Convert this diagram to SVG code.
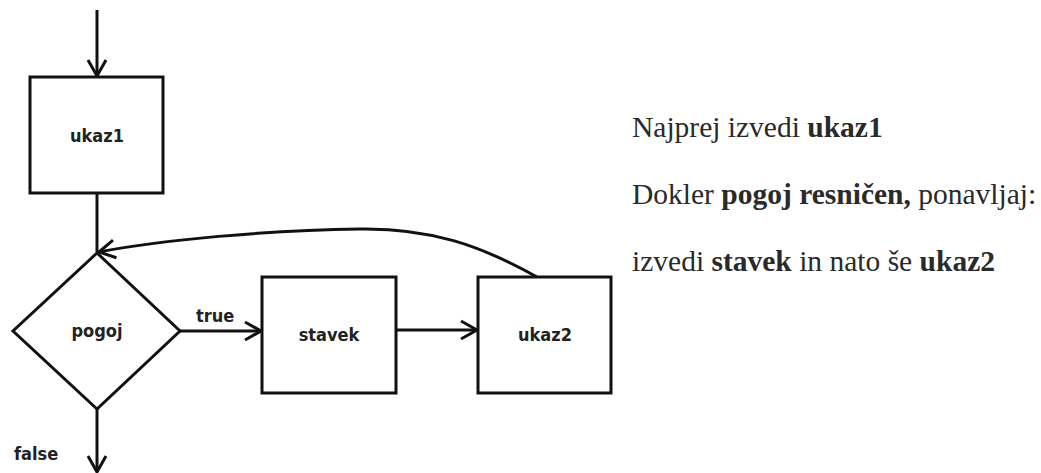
<svg xmlns="http://www.w3.org/2000/svg" width="1041" height="473" viewBox="0 0 1041 473">
<style>
.box{fill:#fff;stroke:#111;stroke-width:3}
.edge{fill:none;stroke:#111;stroke-width:3}
.lbl{font-family:"DejaVu Sans Condensed","DejaVu Sans",Verdana,sans-serif;font-stretch:condensed;font-weight:bold;font-size:18px;fill:#222;text-anchor:middle}
.elbl{font-family:"DejaVu Sans Condensed","DejaVu Sans",Verdana,sans-serif;font-stretch:condensed;font-weight:bold;font-size:18px;fill:#222}
.desc{font-family:"Liberation Serif","Times New Roman",serif;font-size:29.5px;fill:#2a2a2a}
.desc tspan.b{font-weight:bold}
</style>
<defs>
<marker id="arr" markerUnits="userSpaceOnUse" markerWidth="24" markerHeight="24" viewBox="-20 -12 24 24" refX="0" refY="0" orient="auto" overflow="visible">
<path d="M-16,-9 L0,0 L-16,9" fill="none" stroke="#111" stroke-width="3" stroke-linejoin="miter"/>
</marker>
</defs>
<rect x="0" y="0" width="1041" height="473" fill="#fff"/>
<g id="connectors">
<path class="edge" d="M97,10 L97,76" marker-end="url(#arr)"/>
<path class="edge" d="M97,193 L97,252"/>
<path class="edge" d="M180,331 L261,331" marker-end="url(#arr)"/>
<path class="edge" d="M396,330 L477,330" marker-end="url(#arr)"/>
<path class="edge" d="M537,277 C480,245 430,228 360,229 C270,230 160,240 99,252" marker-end="url(#arr)"/>
<path class="edge" d="M97,409 L97,472" marker-end="url(#arr)"/>
<text class="elbl" x="196" y="322">true</text>
<text class="elbl" x="14" y="460">false</text>
</g>
<g id="ukaz1">
<rect class="box" x="30" y="77" width="133" height="116"/>
<text class="lbl" x="97" y="142">ukaz1</text>
</g>
<g id="pogoj">
<polygon class="box" points="97,253 180,331 97,409 13,331"/>
<text class="lbl" x="97" y="337">pogoj</text>
</g>
<g id="stavek">
<rect class="box" x="262" y="277" width="134" height="116"/>
<text class="lbl" x="329" y="341">stavek</text>
</g>
<g id="ukaz2">
<rect class="box" x="478" y="277" width="133" height="116"/>
<text class="lbl" x="545" y="341">ukaz2</text>
</g>
<g id="description">
<text class="desc" x="632" y="137">Najprej izvedi <tspan class="b">ukaz1</tspan></text>
<text class="desc" x="632" y="204">Dokler <tspan class="b">pogoj resničen,</tspan> ponavljaj:</text>
<text class="desc" x="632" y="271">izvedi <tspan class="b">stavek</tspan> in nato še <tspan class="b">ukaz2</tspan></text>
</g>
</svg>
